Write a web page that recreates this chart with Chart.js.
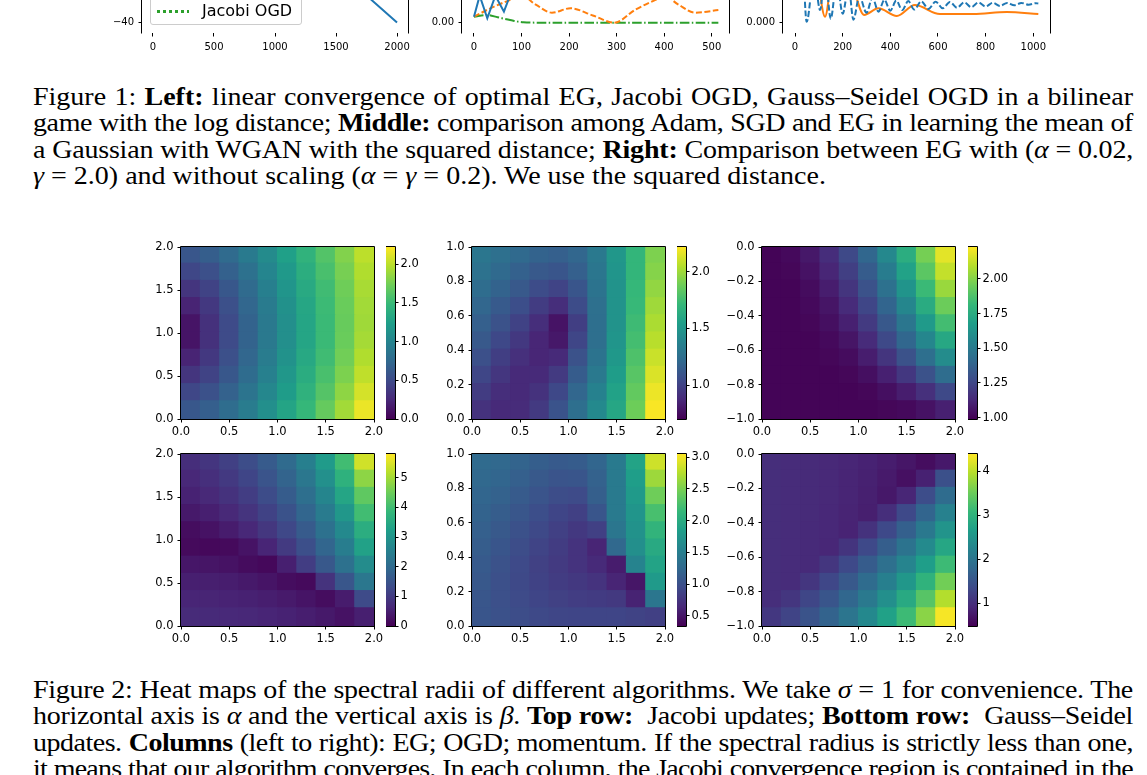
<!DOCTYPE html>
<html>
<head>
<meta charset="utf-8">
<script src="https://cdn.jsdelivr.net/npm/chart.js@4.4.0/dist/chart.umd.min.js"></script>
<style>
  body { margin: 0; width: 1147px; height: 775px; overflow: hidden; background: #fff; position: relative; }
  canvas { position: absolute; }
  .cap { position: absolute; left: 33px; width: 1100px; font-family: "Liberation Serif", "Times New Roman", serif;
         font-size: 28px; line-height: 29.44px; color: #000; transform: scaleY(0.9); transform-origin: 0 0; }
  .ln { text-align: justify; text-align-last: justify; }
  .ln.last { text-align-last: left; }
  .legend { position: absolute; left: 150px; top: -62px; width: 150px; height: 85px; border: 1px solid #cccccc;
            border-radius: 3px; background: rgba(255,255,255,0.8); font-family: "DejaVu Sans", sans-serif; font-size: 16px; }
  .legend .key { position: absolute; left: 6px; width: 32px; height: 2px; }
  .legend .txt { position: absolute; left: 51px; line-height: 20px; white-space: nowrap; }
</style>
</head>
<body>

<canvas id="fig1Left" width="330" height="180" style="left:92px; top:-120px"></canvas>
<canvas id="fig1Mid" width="331" height="180" style="left:412px; top:-120px"></canvas>
<canvas id="fig1Right" width="331" height="180" style="left:733px; top:-120px"></canvas>

<div class="legend">
  <div class="key" style="top:17px; background:#1f77b4"></div><div class="txt" style="top:8px">EG</div>
  <div class="key" style="top:44px; background:repeating-linear-gradient(90deg,#ff7f0e 0 6px,transparent 6px 8.5px)"></div><div class="txt" style="top:35px">Gauss–Seidel OGD</div>
  <div class="key" style="top:71px; height:2.5px; background:repeating-linear-gradient(90deg,#2ca02c 0 3px,transparent 3px 6px)"></div><div class="txt" style="top:62px">Jacobi OGD</div>
</div>

<div class="cap" style="top:82.75px">
  <div class="ln">Figure 1: <b>Left:</b> linear convergence of optimal EG, Jacobi OGD, Gauss–Seidel OGD in a bilinear</div>
  <div class="ln">game with the log distance; <b>Middle:</b> comparison among Adam, SGD and EG in learning the mean of</div>
  <div class="ln">a Gaussian with WGAN with the squared distance; <b>Right:</b> Comparison between EG with (<i>α</i> = 0.02,</div>
  <div class="ln last"><i>γ</i> = 2.0) and without scaling (<i>α</i> = <i>γ</i> = 0.2). We use the squared distance.</div>
</div>

<canvas id="hmJacobiEG" width="257" height="207" style="left:131px; top:237px"></canvas>
<canvas id="hmJacobiOGD" width="257" height="207" style="left:422px; top:237px"></canvas>
<canvas id="hmJacobiMom" width="257" height="207" style="left:712px; top:237px"></canvas>
<canvas id="hmGaussSeidelEG" width="257" height="207" style="left:131px; top:444px"></canvas>
<canvas id="hmGaussSeidelOGD" width="257" height="207" style="left:422px; top:444px"></canvas>
<canvas id="hmGaussSeidelMom" width="257" height="207" style="left:712px; top:444px"></canvas>

<canvas id="cbJacobiEG" width="49" height="207" style="left:386px; top:237px"></canvas>
<canvas id="cbJacobiOGD" width="49" height="207" style="left:677px; top:237px"></canvas>
<canvas id="cbJacobiMom" width="49" height="207" style="left:968px; top:237px"></canvas>
<canvas id="cbGaussSeidelEG" width="49" height="207" style="left:386px; top:444px"></canvas>
<canvas id="cbGaussSeidelOGD" width="49" height="207" style="left:677px; top:444px"></canvas>
<canvas id="cbGaussSeidelMom" width="49" height="207" style="left:968px; top:444px"></canvas>

<div class="cap" style="top:676.25px">
  <div class="ln">Figure 2: Heat maps of the spectral radii of different algorithms. We take <i>σ</i> = 1 for convenience. The</div>
  <div class="ln">horizontal axis is <i>α</i> and the vertical axis is <i>β</i>. <b>Top row:</b>&nbsp; Jacobi updates; <b>Bottom row:</b>&nbsp; Gauss–Seidel</div>
  <div class="ln">updates. <b>Columns</b> (left to right): EG; OGD; momentum. If the spectral radius is strictly less than one,</div>
  <div class="ln">it means that our algorithm converges. In each column, the Jacobi convergence region is contained in the</div>
</div>

<script>
// ---- Figure 1 (only the bottom strip is on the page) ----
const iterLeft = [0, 500, 1000, 1500, 2000];
const egLogDist = [2, -3, -9, -22, -40];
const gsOgdLogDist = [0, -5, -10, -15, -20];
const jacobiOgdLogDist = [0, -3, -6, -9, -12];

const iterAdam = [0, 12, 28, 45, 63, 78, 100, 150, 200, 300, 400, 500];
const adamDist = [0.010, 0.045, 0.0073, 0.045, 0.0183, 0.05, 0.07, 0.09, 0.1, 0.1, 0.1, 0.1];
const iterSgd = [0, 40, 83, 100, 130, 164, 203, 250, 295, 340, 387, 400, 430, 465, 514];
const sgdDist = [0.010, 0.026, 0.040, 0.045, 0.030, 0.0167, 0.024, 0.012, 0.0, 0.022, 0.040, 0.045, 0.030, 0.0167, 0.021];
const iterEgMid = [0, 28, 50, 76, 104, 150, 200, 300, 400, 514];
const egMidDist = [0.010, 0.0128, 0.009, 0.0045, 0.0007, 0, 0, 0, 0, 0];

const iterNoScale = [0, 30, 49, 80, 105, 126, 150, 175, 200, 225, 245, 270, 300, 325, 350, 375, 400, 425, 450, 475, 500,
  530, 560, 590, 620, 650, 680, 710, 740, 770, 800, 830, 860, 890, 920, 950, 980, 1010, 1021];
const noScaleDist = [0.08, 0.06, 0.0008, 0.04, 0.0106, 0.04, 0.0033, 0.035, 0.0075, 0.03, 0.0025, 0.022, 0.0083, 0.021,
  0.0092, 0.019, 0.010, 0.0185, 0.0105, 0.018, 0.011, 0.0178, 0.0115, 0.0175, 0.012, 0.0172, 0.0125, 0.017, 0.013,
  0.0168, 0.0135, 0.0166, 0.014, 0.0165, 0.0145, 0.0165, 0.015, 0.0163, 0.016];
const iterScaled = [0, 90, 126, 160, 220, 290, 350, 427, 503, 608, 748, 888, 1021];
const scaledDist = [0.06, 0.04, 0.005, 0.04, 0.04, 0.0065, 0.012, 0.0056, 0.0147, 0.0072, 0.0072, 0.0089, 0.0072];

// ---- Figure 2: spectral radius grids, rows listed top to bottom ----
const alphaCenters = [0.1, 0.3, 0.5, 0.7, 0.9, 1.1, 1.3, 1.5, 1.7, 1.9];
const betaRowsEG = [1.9, 1.7, 1.5, 1.3, 1.1, 0.9, 0.7, 0.5, 0.3, 0.1];
const betaRowsOGD = [0.95, 0.85, 0.75, 0.65, 0.55, 0.45, 0.35, 0.25, 0.15, 0.05];
const betaRowsMom = [-0.05, -0.15, -0.25, -0.35, -0.45, -0.55, -0.65, -0.75, -0.85, -0.95];
const alphaTicks = [0, 0.5, 1, 1.5, 2];
const betaTicksEG = [0, 0.5, 1, 1.5, 2];
const betaTicksOGD = [0, 0.2, 0.4, 0.6, 0.8, 1];
const betaTicksMom = [-1, -0.8, -0.6, -0.4, -0.2, 0];

const rhoJacobiEG = [
  [0.59, 0.66, 0.77, 0.91, 1.07, 1.25, 1.43, 1.61, 1.80, 2.00],
  [0.47, 0.54, 0.68, 0.83, 1.01, 1.19, 1.38, 1.57, 1.76, 1.96],
  [0.34, 0.44, 0.60, 0.77, 0.96, 1.15, 1.34, 1.53, 1.73, 1.93],
  [0.22, 0.36, 0.54, 0.73, 0.92, 1.12, 1.31, 1.51, 1.71, 1.91],
  [0.12, 0.31, 0.50, 0.70, 0.90, 1.10, 1.30, 1.50, 1.70, 1.90],
  [0.12, 0.31, 0.50, 0.70, 0.90, 1.10, 1.30, 1.50, 1.71, 1.92],
  [0.22, 0.36, 0.54, 0.73, 0.93, 1.13, 1.33, 1.53, 1.74, 1.96],
  [0.34, 0.44, 0.60, 0.78, 0.97, 1.17, 1.37, 1.57, 1.78, 2.01],
  [0.47, 0.55, 0.69, 0.85, 1.03, 1.22, 1.42, 1.62, 1.84, 2.08],
  [0.60, 0.67, 0.79, 0.93, 1.10, 1.29, 1.48, 1.69, 1.91, 2.16]
];
const rhoJacobiOGD = [
  [1.30, 1.26, 1.22, 1.18, 1.16, 1.20, 1.32, 1.50, 1.70, 1.92],
  [1.27, 1.22, 1.17, 1.12, 1.10, 1.16, 1.30, 1.49, 1.70, 1.94],
  [1.24, 1.18, 1.12, 1.05, 1.01, 1.10, 1.28, 1.48, 1.71, 1.97],
  [1.20, 1.13, 1.06, 0.97, 0.90, 1.05, 1.26, 1.48, 1.72, 2.00],
  [1.16, 1.08, 1.00, 0.90, 0.78, 0.98, 1.25, 1.48, 1.74, 2.03],
  [1.12, 1.03, 0.95, 0.86, 0.80, 1.02, 1.25, 1.49, 1.76, 2.06],
  [1.07, 0.98, 0.91, 0.86, 0.88, 1.08, 1.28, 1.51, 1.79, 2.10],
  [1.02, 0.94, 0.88, 0.88, 0.96, 1.14, 1.32, 1.54, 1.82, 2.14],
  [0.97, 0.90, 0.88, 0.92, 1.03, 1.20, 1.37, 1.57, 1.85, 2.18],
  [0.92, 0.88, 0.89, 0.96, 1.09, 1.25, 1.42, 1.60, 1.88, 2.21]
];
const rhoJacobiMom = [
  [1.00, 1.02, 1.07, 1.15, 1.26, 1.40, 1.57, 1.76, 1.97, 2.18],
  [1.00, 1.01, 1.05, 1.12, 1.22, 1.35, 1.51, 1.70, 1.91, 2.12],
  [1.00, 1.00, 1.03, 1.09, 1.18, 1.30, 1.45, 1.63, 1.83, 2.04],
  [1.00, 1.00, 1.02, 1.06, 1.14, 1.25, 1.39, 1.56, 1.75, 1.95],
  [1.00, 1.00, 1.01, 1.04, 1.10, 1.20, 1.33, 1.48, 1.66, 1.85],
  [1.00, 1.00, 1.00, 1.02, 1.06, 1.14, 1.26, 1.40, 1.56, 1.73],
  [1.00, 1.00, 1.00, 1.01, 1.03, 1.09, 1.18, 1.30, 1.44, 1.59],
  [1.00, 1.00, 1.00, 1.00, 1.01, 1.04, 1.10, 1.19, 1.30, 1.43],
  [1.00, 1.00, 1.00, 1.00, 1.00, 1.01, 1.04, 1.09, 1.16, 1.26],
  [1.00, 1.00, 1.00, 1.00, 1.00, 1.00, 1.01, 1.02, 1.05, 1.10]
];
const rhoGaussSeidelEG = [
  [0.75, 0.90, 1.10, 1.35, 1.65, 2.00, 2.50, 3.15, 4.00, 5.40],
  [0.65, 0.78, 0.97, 1.20, 1.50, 1.85, 2.30, 2.90, 3.70, 4.80],
  [0.55, 0.66, 0.84, 1.05, 1.33, 1.68, 2.10, 2.65, 3.40, 4.35],
  [0.40, 0.50, 0.66, 0.87, 1.14, 1.47, 1.88, 2.40, 3.05, 4.00],
  [0.20, 0.28, 0.44, 0.65, 0.92, 1.25, 1.65, 2.15, 2.75, 3.60],
  [0.15, 0.12, 0.15, 0.30, 0.60, 0.98, 1.40, 1.90, 2.45, 3.30],
  [0.35, 0.33, 0.28, 0.18, 0.12, 0.50, 1.05, 1.60, 2.15, 2.80],
  [0.50, 0.49, 0.46, 0.40, 0.32, 0.20, 0.15, 0.85, 1.55, 2.30],
  [0.60, 0.59, 0.57, 0.53, 0.48, 0.41, 0.32, 0.20, 0.45, 1.30],
  [0.70, 0.69, 0.67, 0.64, 0.60, 0.55, 0.48, 0.40, 0.28, 0.50]
];
const rhoGaussSeidelOGD = [
  [1.28, 1.25, 1.20, 1.14, 1.10, 1.12, 1.22, 1.45, 1.90, 2.85],
  [1.25, 1.22, 1.16, 1.09, 1.04, 1.05, 1.18, 1.45, 1.85, 2.65],
  [1.22, 1.18, 1.11, 1.04, 0.97, 0.95, 1.15, 1.45, 1.80, 2.45],
  [1.19, 1.13, 1.06, 0.98, 0.90, 0.85, 1.05, 1.45, 1.75, 2.25],
  [1.16, 1.09, 1.01, 0.93, 0.85, 0.78, 0.85, 1.40, 1.72, 2.10],
  [1.13, 1.05, 0.97, 0.89, 0.82, 0.74, 0.62, 1.25, 1.68, 1.98],
  [1.10, 1.02, 0.94, 0.86, 0.80, 0.74, 0.66, 0.55, 1.55, 1.90],
  [1.08, 1.00, 0.93, 0.87, 0.82, 0.78, 0.74, 0.62, 0.50, 1.80],
  [1.06, 1.00, 0.95, 0.90, 0.86, 0.83, 0.81, 0.79, 0.60, 1.40],
  [1.05, 1.01, 0.97, 0.93, 0.91, 0.90, 0.90, 0.90, 0.88, 0.85]
];
const rhoGaussSeidelMom = [
  [1.00, 0.98, 0.96, 0.93, 0.90, 0.86, 0.80, 0.72, 0.62, 0.75],
  [1.00, 0.98, 0.96, 0.93, 0.89, 0.84, 0.77, 0.66, 0.85, 1.45],
  [1.00, 0.98, 0.96, 0.93, 0.89, 0.83, 0.74, 0.90, 1.40, 1.85],
  [1.00, 0.98, 0.96, 0.92, 0.88, 0.82, 1.00, 1.35, 1.75, 2.20],
  [1.00, 0.98, 0.95, 0.92, 0.87, 1.05, 1.35, 1.68, 2.05, 2.50],
  [1.00, 0.98, 0.95, 0.91, 1.08, 1.35, 1.65, 1.98, 2.35, 2.80],
  [1.00, 0.97, 0.95, 1.10, 1.35, 1.62, 1.92, 2.25, 2.65, 3.15],
  [1.00, 0.97, 1.10, 1.32, 1.57, 1.85, 2.17, 2.55, 3.00, 3.55],
  [1.00, 1.10, 1.30, 1.52, 1.78, 2.08, 2.42, 2.85, 3.35, 3.95],
  [1.12, 1.28, 1.48, 1.72, 2.00, 2.32, 2.70, 3.15, 3.70, 4.35]
];

// colour bar limits and ticks
const rangeJacobiEG = [0, 2.22];
const rangeJacobiOGD = [0.70, 2.22];
const rangeJacobiMom = [0.99, 2.23];
const rangeGaussSeidelEG = [0, 5.8];
const rangeGaussSeidelOGD = [0.34, 3.05];
const rangeGaussSeidelMom = [0.49, 4.39];
const cbTicksJacobiEG = [0, 0.5, 1, 1.5, 2];
const cbTicksJacobiOGD = [1, 1.5, 2];
const cbTicksJacobiMom = [1, 1.25, 1.5, 1.75, 2];
const cbTicksGaussSeidelEG = [0, 1, 2, 3, 4, 5];
const cbTicksGaussSeidelOGD = [0.5, 1, 1.5, 2, 2.5, 3];
const cbTicksGaussSeidelMom = [1, 2, 3, 4];

// ---- helpers ----
const viridisStops = ['#440154', '#482878', '#3e4a89', '#31688e', '#26828e', '#1f9e89', '#35b779', '#6dcd59', '#b4de2c', '#fde725'];
const stopRgb = viridisStops.map(h => [1, 3, 5].map(i => parseInt(h.substr(i, 2), 16)));
function viridis(t) {
  t = Math.min(1, Math.max(0, t));
  const s = t * 9, i = Math.min(8, Math.floor(s)), f = s - i;
  const a = stopRgb[i], b = stopRgb[i + 1];
  return 'rgb(' + a.map((c, k) => Math.round(c + (b[k] - c) * f)).join(',') + ')';
}

const minus = s => s.replace('-', '\u2212');
const fmt0 = v => minus(v.toFixed(0));
const fmt1 = v => minus(v.toFixed(1));
const fmt2 = v => minus(v.toFixed(2));
const fmt3 = v => minus(v.toFixed(3));

Chart.defaults.font.family = '"DejaVu Sans", sans-serif';
Chart.defaults.color = '#000';
Chart.defaults.animation = false;
Chart.defaults.events = [];
Chart.defaults.plugins.legend.display = false;
Chart.defaults.plugins.tooltip.enabled = false;

function axis(position, min, max, ticks, fmt, fontSize, extent, pad) {
  return {
    type: 'linear', position, min, max,
    afterBuildTicks: s => { s.ticks = ticks.map(v => ({ value: v })); },
    afterFit: s => {
      if (position === 'bottom') s.height = extent; else s.width = extent;
      s.paddingLeft = s.paddingRight = s.paddingTop = s.paddingBottom = 0;
    },
    grid: { display: true, drawOnChartArea: false, tickLength: 3.5, color: '#000', lineWidth: 1 },
    border: { display: false },
    ticks: { autoSkip: false, maxRotation: 0, padding: pad, color: '#000', font: { size: fontSize }, callback: v => fmt(v) }
  };
}

// black spines round the plot area
const framePlugin = {
  id: 'frame',
  afterDatasetsDraw(chart, args, opts) {
    const a = chart.chartArea, ctx = chart.ctx;
    const l = Math.round(a.left) - 0.5, r = Math.round(a.right) + 0.5;
    const t = Math.round(a.top) - 0.5, b = Math.round(a.bottom) + 0.5;
    const sides = opts.sides || 'ltrb';
    ctx.save();
    ctx.strokeStyle = '#000';
    ctx.lineWidth = 1;
    ctx.beginPath();
    if (sides.includes('l')) { ctx.moveTo(l, t); ctx.lineTo(l, b); }
    if (sides.includes('r')) { ctx.moveTo(r, t); ctx.lineTo(r, b); }
    if (sides.includes('t')) { ctx.moveTo(l, t); ctx.lineTo(r, t); }
    if (sides.includes('b')) { ctx.moveTo(l, b); ctx.lineTo(r, b); }
    ctx.stroke();
    ctx.restore();
  }
};

const gradientPlugin = {
  id: 'cbGradient',
  beforeDatasetsDraw(chart) {
    const a = chart.chartArea, ctx = chart.ctx;
    const g = ctx.createLinearGradient(0, a.bottom, 0, a.top);
    viridisStops.forEach((c, i) => g.addColorStop(i / 9, c));
    ctx.save();
    ctx.fillStyle = g;
    ctx.fillRect(a.left, a.top, a.right - a.left, a.bottom - a.top);
    ctx.restore();
  }
};

function cellRadius(chart, dx, dy) {
  const xs = chart.scales.x, ys = chart.scales.y;
  const w = Math.abs(xs.getPixelForValue(dx) - xs.getPixelForValue(0));
  const h = Math.abs(ys.getPixelForValue(dy) - ys.getPixelForValue(0));
  return (Math.max(w, h) + 1) / (2 * Math.SQRT1_2);
}

function heatmap(id, grid, betaRows, range, yMin, yMax, yTicks) {
  const cells = [];
  grid.forEach((row, r) => row.forEach((v, c) => cells.push({ x: alphaCenters[c], y: betaRows[r], v })));
  const dy = Math.abs(betaRows[0] - betaRows[1]);
  new Chart(document.getElementById(id), {
    type: 'scatter',
    data: {
      datasets: [{
        data: cells,
        clip: 0,
        pointStyle: 'rect',
        pointBorderWidth: 0,
        pointBackgroundColor: ctx => ctx.raw ? viridis((ctx.raw.v - range[0]) / (range[1] - range[0])) : '#000',
        pointRadius: ctx => cellRadius(ctx.chart, 0.2, dy)
      }]
    },
    options: {
      responsive: false,
      layout: { padding: { top: 10, right: 14, left: 0, bottom: 0 } },
      scales: {
        x: axis('bottom', 0, 2, alphaTicks, fmt1, 11.5, 25, 3),
        y: axis('left', yMin, yMax, yTicks, fmt1, 11.5, 50, 4)
      },
      plugins: { frame: { sides: 'ltrb' } }
    },
    plugins: [framePlugin]
  });
}

function colorbar(id, range, ticks, fmt) {
  new Chart(document.getElementById(id), {
    type: 'scatter',
    data: { datasets: [] },
    options: {
      responsive: false,
      layout: { padding: { top: 10, bottom: 25, left: 0, right: 0 } },
      scales: {
        x: { display: false, min: 0, max: 1 },
        y: axis('right', range[0], range[1], ticks, fmt, 11.5, 40, 2)
      },
      plugins: { frame: { sides: 'ltrb' } }
    },
    plugins: [gradientPlugin, framePlugin]
  });
}

heatmap('hmJacobiEG', rhoJacobiEG, betaRowsEG, rangeJacobiEG, 0, 2, betaTicksEG);
heatmap('hmJacobiOGD', rhoJacobiOGD, betaRowsOGD, rangeJacobiOGD, 0, 1, betaTicksOGD);
heatmap('hmJacobiMom', rhoJacobiMom, betaRowsMom, rangeJacobiMom, -1, 0, betaTicksMom);
heatmap('hmGaussSeidelEG', rhoGaussSeidelEG, betaRowsEG, rangeGaussSeidelEG, 0, 2, betaTicksEG);
heatmap('hmGaussSeidelOGD', rhoGaussSeidelOGD, betaRowsOGD, rangeGaussSeidelOGD, 0, 1, betaTicksOGD);
heatmap('hmGaussSeidelMom', rhoGaussSeidelMom, betaRowsMom, rangeGaussSeidelMom, -1, 0, betaTicksMom);

colorbar('cbJacobiEG', rangeJacobiEG, cbTicksJacobiEG, fmt1);
colorbar('cbJacobiOGD', rangeJacobiOGD, cbTicksJacobiOGD, fmt1);
colorbar('cbJacobiMom', rangeJacobiMom, cbTicksJacobiMom, fmt2);
colorbar('cbGaussSeidelEG', rangeGaussSeidelEG, cbTicksGaussSeidelEG, fmt0);
colorbar('cbGaussSeidelOGD', rangeGaussSeidelOGD, cbTicksGaussSeidelOGD, fmt1);
colorbar('cbGaussSeidelMom', rangeGaussSeidelMom, cbTicksGaussSeidelMom, fmt0);

// ---- Figure 1 line charts ----
const pts = (xs, ys) => xs.map((x, i) => ({ x, y: ys[i] }));

function lineChart(id, datasets, xMin, xMax, xTicks, yMin, yMax, yTicks, yFmt) {
  new Chart(document.getElementById(id), {
    type: 'line',
    data: { datasets },
    options: {
      responsive: false,
      layout: { padding: { top: 10, right: 14, left: 0, bottom: 0 } },
      elements: { point: { radius: 0 }, line: { borderWidth: 2, tension: 0 } },
      scales: {
        x: axis('bottom', xMin, xMax, xTicks, fmt0, 10, 27, 5),
        y: axis('left', yMin, yMax, yTicks, yFmt, 10, 50, 4.5)
      },
      plugins: { frame: { sides: 'lr' } }
    },
    plugins: [framePlugin]
  });
}

lineChart('fig1Left', [
  { label: 'EG', data: pts(iterLeft, egLogDist), borderColor: '#1f77b4' },
  { label: 'Gauss–Seidel OGD', data: pts(iterLeft, gsOgdLogDist), borderColor: '#ff7f0e', borderDash: [6, 2.5] },
  { label: 'Jacobi OGD', data: pts(iterLeft, jacobiOgdLogDist), borderColor: '#2ca02c', borderDash: [2, 3.3] }
], -90, 2090, [0, 500, 1000, 1500, 2000], -43.5, 4.17, [-40, -30, -20, -10, 0], fmt0);

lineChart('fig1Mid', [
  { label: 'Adam', data: pts(iterAdam, adamDist), borderColor: '#1f77b4' },
  { label: 'SGD', data: pts(iterSgd, sgdDist), borderColor: '#ff7f0e', borderDash: [6, 2.5], cubicInterpolationMode: 'monotone' },
  { label: 'EG', data: pts(iterEgMid, egMidDist), borderColor: '#2ca02c', borderDash: [9.6, 2.4, 1.5, 2.4], cubicInterpolationMode: 'monotone' }
], -25.2, 536.4, [0, 100, 200, 300, 400, 500], -0.0172, 0.2211, [0, 0.05, 0.1, 0.15, 0.2], fmt2);

lineChart('fig1Right', [
  { label: 'without scaling', data: pts(iterNoScale, noScaleDist), borderColor: '#1f77b4', borderDash: [6, 2.5], cubicInterpolationMode: 'monotone' },
  { label: 'EG with scaling', data: pts(iterScaled, scaledDist), borderColor: '#ff7f0e', cubicInterpolationMode: 'monotone' }
], -50.4, 1070, [0, 200, 400, 600, 800, 1000], -0.00858, 0.1106, [0, 0.025, 0.05, 0.075, 0.1], fmt3);

// keep every caption line on one row
document.querySelectorAll('.ln').forEach(el => {
  let ls = 0;
  while (el.getBoundingClientRect().height > 30 && ls > -2) {
    ls -= 0.1;
    el.style.letterSpacing = ls.toFixed(1) + 'px';
  }
});
</script>
</body>
</html>
